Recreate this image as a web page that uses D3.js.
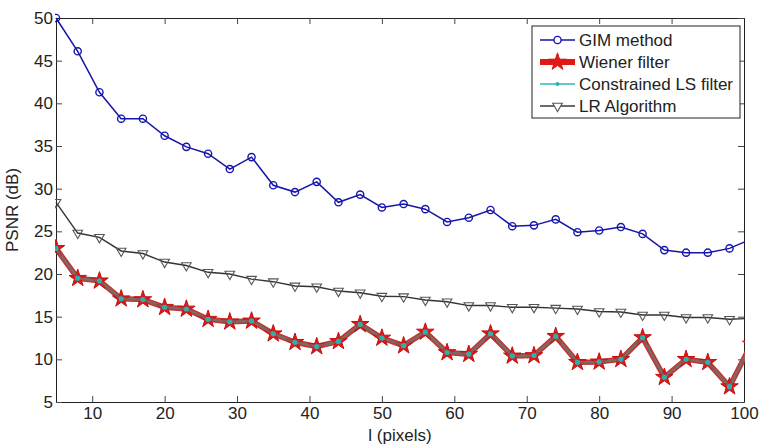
<!DOCTYPE html>
<html>
<head>
<meta charset="utf-8">
<script src="https://cdn.jsdelivr.net/npm/d3@7"></script>
<style>
  body { margin: 0; background: #fff; }
  text { font-family: Arial, "Liberation Sans", sans-serif; fill: #222; }
</style>
</head>
<body>
<div id="chart"></div>
<script>
// --- DATA ---
const pixels = [5, 8, 11, 14, 17, 20, 23, 26, 29, 32, 35, 38, 41, 44, 47, 50, 53,
  56, 59, 62, 65, 68, 71, 74, 77, 80, 83, 86, 89, 92, 95, 98, 101];
const gim = [50.0, 46.1, 41.3, 38.2, 38.2, 36.2, 34.9, 34.1, 32.3, 33.7, 30.4, 29.6, 30.8,
  28.4, 29.3, 27.8, 28.2, 27.6, 26.1, 26.6, 27.5, 25.6, 25.7, 26.4, 24.9, 25.1, 25.5,
  24.7, 22.8, 22.5, 22.5, 23.0, 24.1];
const wiener = [23.0, 19.5, 19.2, 17.1, 17.0, 16.1, 15.9, 14.7, 14.4, 14.5, 13.0, 12.0, 11.5,
  12.1, 14.1, 12.5, 11.6, 13.2, 10.8, 10.6, 13.0, 10.4, 10.45, 12.7, 9.65, 9.7, 10.0,
  12.55, 7.9, 10.0, 9.65, 6.8, 11.8];
const constrainedLS = [23.0, 19.5, 19.2, 17.1, 17.0, 16.1, 15.9, 14.7, 14.4, 14.5, 13.0, 12.0, 11.5,
  12.1, 14.1, 12.5, 11.6, 13.2, 10.8, 10.6, 13.0, 10.4, 10.45, 12.7, 9.65, 9.7, 10.0,
  12.55, 7.9, 10.0, 9.65, 6.8, 11.8];
const lr = [28.4, 24.8, 24.3, 22.7, 22.4, 21.4, 21.0, 20.2, 20.0, 19.4, 19.1, 18.6, 18.5,
  18.0, 17.8, 17.4, 17.35, 16.95, 16.75, 16.3, 16.3, 16.1, 16.1, 16.0, 15.9, 15.6, 15.55,
  15.2, 15.2, 14.9, 14.9, 14.7, 14.8];
const xTicks = [10, 20, 30, 40, 50, 60, 70, 80, 90, 100];
const yTicks = [5, 10, 15, 20, 25, 30, 35, 40, 45, 50];
const legendLabels = ["GIM method", "Wiener filter", "Constrained LS filter", "LR Algorithm"];

// --- SETUP ---
const width = 761, height = 445;
const margin = { top: 18, right: 17, bottom: 43, left: 56 };
const w = width - margin.left - margin.right;
const h = height - margin.top - margin.bottom;
const fs = "17px";

const svg = d3.select("#chart").append("svg")
  .attr("width", width).attr("height", height);

const g = svg.append("g").attr("transform", `translate(${margin.left},${margin.top})`);

const x = d3.scaleLinear().domain([5, 100]).range([0, w]);
const y = d3.scaleLinear().domain([5, 50]).range([h, 0]);

g.append("clipPath").attr("id", "clip")
  .append("rect").attr("x", -1).attr("y", -8).attr("width", w + 2).attr("height", h + 16);

// --- AXES (ticks inward, MATLAB style box) ---
function styleAxis(sel) {
  sel.select(".domain").attr("stroke", "#222");
  sel.selectAll(".tick line").attr("stroke", "#444");
  sel.selectAll("text").style("font-size", fs).attr("fill", "#222");
}
g.append("g").attr("transform", `translate(0,${h})`)
  .call(d3.axisBottom(x).tickValues(xTicks).tickSize(-6).tickPadding(5).tickSizeOuter(0))
  .call(styleAxis);
g.append("g")
  .call(d3.axisLeft(y).tickValues(yTicks).tickSize(-6).tickPadding(3).tickSizeOuter(0))
  .call(styleAxis);
g.append("g")
  .call(d3.axisTop(x).tickValues(xTicks).tickSize(-6).tickFormat("").tickSizeOuter(0))
  .call(styleAxis);
g.append("g").attr("transform", `translate(${w},0)`)
  .call(d3.axisRight(y).tickValues(yTicks).tickSize(-6).tickFormat("").tickSizeOuter(0))
  .call(styleAxis);

g.append("text").attr("x", w / 2).attr("y", h + 39)
  .attr("text-anchor", "middle").style("font-size", fs).text("l (pixels)");
g.append("text").attr("transform", `translate(${-38},${h / 2}) rotate(-90)`)
  .attr("text-anchor", "middle").style("font-size", fs).text("PSNR (dB)");

// --- SERIES ---
const plot = g.append("g").attr("clip-path", "url(#clip)");
const pts = vals => pixels.map((p, i) => [p, vals[i]]);
const line = d3.line().x(d => x(d[0])).y(d => y(d[1]));
const star = d3.symbol().type(d3.symbolStar).size(95);
const tri = d3.symbol().type(d3.symbolTriangle).size(40);

// LR Algorithm
plot.append("path").datum(pts(lr)).attr("d", line)
  .attr("fill", "none").attr("stroke", "#333").attr("stroke-width", 1.4);
plot.selectAll(".lr").data(pts(lr)).join("path").attr("class", "lr")
  .attr("d", tri)
  .attr("transform", d => `translate(${x(d[0])},${y(d[1])}) rotate(180)`)
  .attr("fill", "none").attr("stroke", "#555").attr("stroke-width", 1.1);

// Wiener filter
plot.append("path").datum(pts(wiener)).attr("d", line)
  .attr("fill", "none").attr("stroke", "#c23530").attr("stroke-width", 5.5)
  .attr("stroke-linejoin", "round");
plot.selectAll(".wi").data(pts(wiener)).join("path").attr("class", "wi")
  .attr("d", star)
  .attr("transform", d => `translate(${x(d[0])},${y(d[1])})`)
  .attr("fill", "#e01818").attr("stroke", "#c41010").attr("stroke-width", 1);

// Constrained LS filter
plot.append("path").datum(pts(constrainedLS)).attr("d", line)
  .attr("fill", "none").attr("stroke", "#2fa8a8").attr("stroke-width", 2.5)
  .attr("stroke-opacity", 0.45).attr("stroke-linejoin", "round");
plot.selectAll(".ls").data(pts(constrainedLS)).join("circle").attr("class", "ls")
  .attr("cx", d => x(d[0])).attr("cy", d => y(d[1])).attr("r", 2.6)
  .attr("fill", "#2bb0b0");

// GIM method
plot.append("path").datum(pts(gim)).attr("d", line)
  .attr("fill", "none").attr("stroke", "#1515a8").attr("stroke-width", 1.5);
plot.selectAll(".gim").data(pts(gim)).join("circle").attr("class", "gim")
  .attr("cx", d => x(d[0])).attr("cy", d => y(d[1])).attr("r", 3.6)
  .attr("fill", "none").attr("stroke", "#1515b0").attr("stroke-width", 1.4);

// --- LEGEND ---
const lg = svg.append("g").attr("transform", "translate(532,26)");
lg.append("rect").attr("width", 208).attr("height", 92)
  .attr("fill", "#fff").attr("stroke", "#222").attr("stroke-width", 1);
const rowY = [14, 36, 58, 80];
const x0 = 8, x1 = 43, xm = (x0 + x1) / 2;
// GIM
lg.append("line").attr("x1", x0).attr("x2", x1).attr("y1", rowY[0]).attr("y2", rowY[0])
  .attr("stroke", "#1515a8").attr("stroke-width", 1.5);
lg.append("circle").attr("cx", xm).attr("cy", rowY[0]).attr("r", 3.6)
  .attr("fill", "#fff").attr("stroke", "#1515b0").attr("stroke-width", 1.4);
// Wiener
lg.append("line").attr("x1", x0).attr("x2", x1).attr("y1", rowY[1]).attr("y2", rowY[1])
  .attr("stroke", "#e01818").attr("stroke-width", 6);
lg.append("path").attr("d", star).attr("transform", `translate(${xm},${rowY[1]})`)
  .attr("fill", "#e01818").attr("stroke", "#e01818");
// LS
lg.append("line").attr("x1", x0).attr("x2", x1).attr("y1", rowY[2]).attr("y2", rowY[2])
  .attr("stroke", "#2bb8b8").attr("stroke-width", 1.5);
lg.append("circle").attr("cx", xm).attr("cy", rowY[2]).attr("r", 2)
  .attr("fill", "#2bb0b0");
// LR
lg.append("line").attr("x1", x0).attr("x2", x1).attr("y1", rowY[3]).attr("y2", rowY[3])
  .attr("stroke", "#3a3a3a").attr("stroke-width", 1.3);
lg.append("path").attr("d", tri).attr("transform", `translate(${xm},${rowY[3]}) rotate(180)`)
  .attr("fill", "#fff").attr("stroke", "#555").attr("stroke-width", 1.1);

lg.selectAll(".lt").data(legendLabels).join("text").attr("class", "lt")
  .attr("x", 47).attr("y", (d, i) => rowY[i]).attr("dy", "0.35em")
  .style("font-size", fs).text(d => d);
</script>
</body>
</html>
